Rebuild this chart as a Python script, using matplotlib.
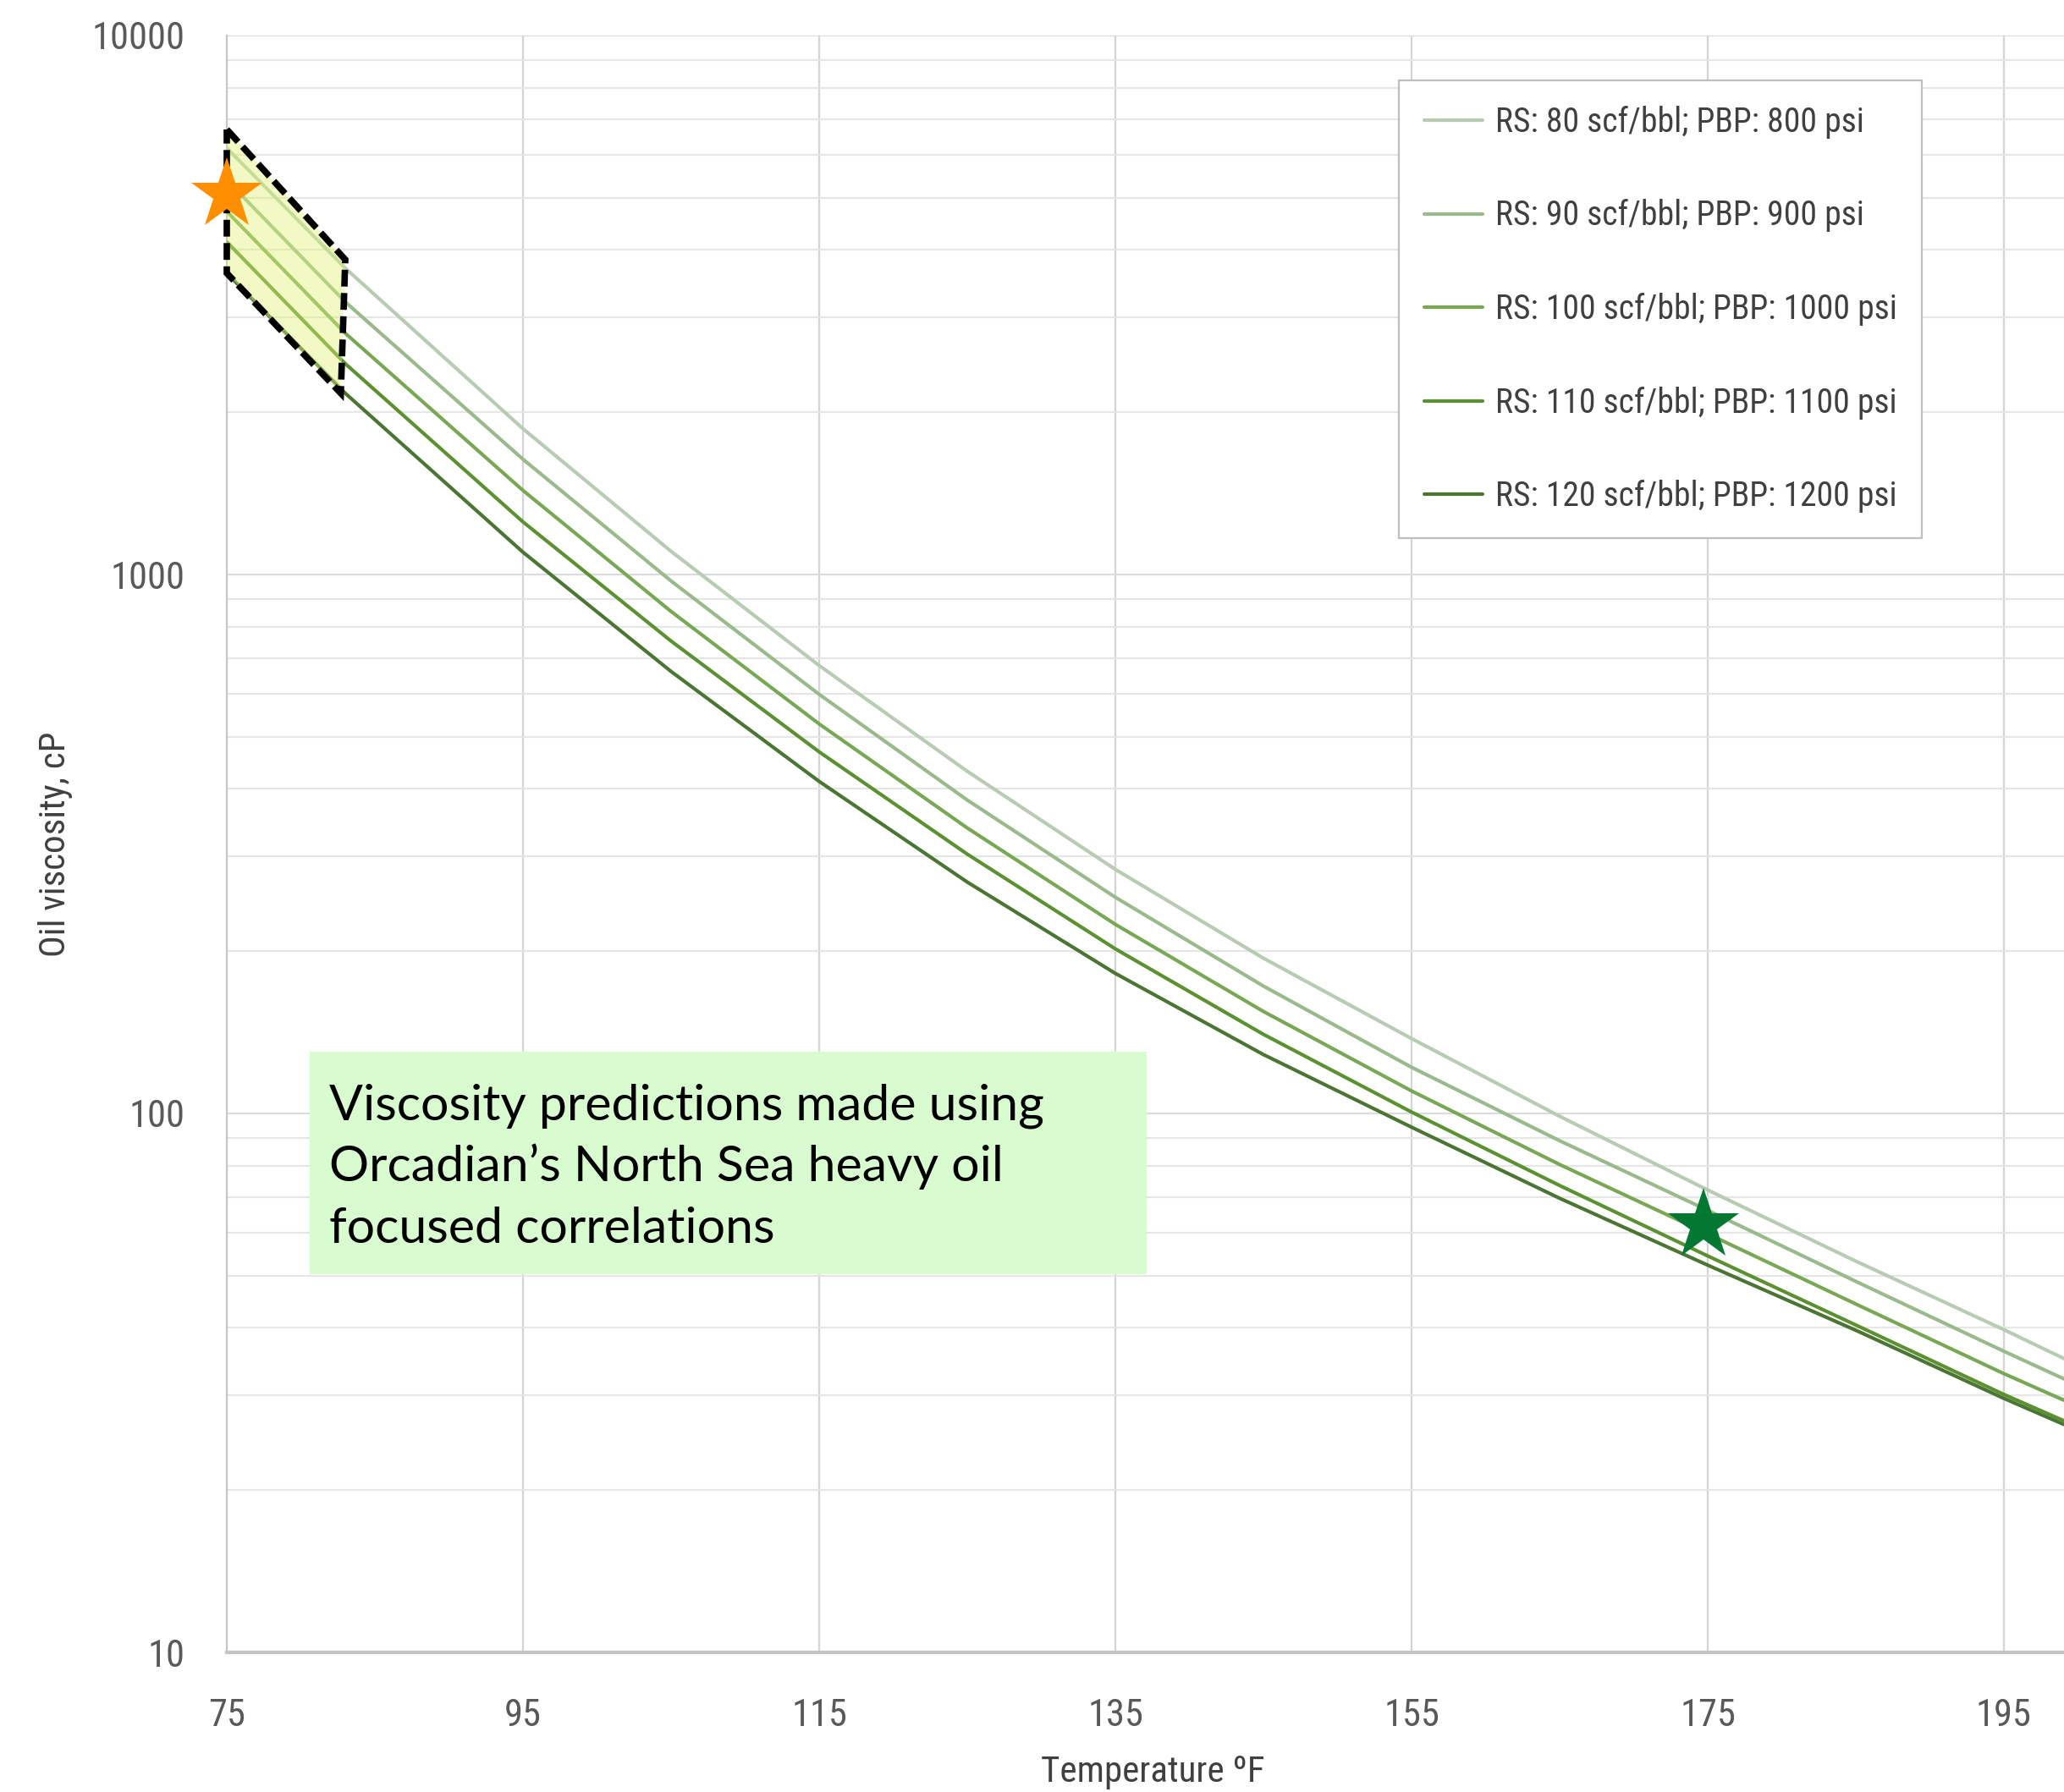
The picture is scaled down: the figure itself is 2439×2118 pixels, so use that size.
import matplotlib
matplotlib.use("Agg")
import matplotlib.pyplot as plt
import matplotlib.font_manager as fm
from matplotlib.patches import Polygon, Rectangle
from matplotlib.ticker import FixedLocator, NullFormatter, LogLocator

# ---------------- data ----------------
temperature_F = [75, 83, 95, 105, 115, 125, 135, 145, 155, 165, 175, 185, 195, 200]

visc_rs80 = [6184, 3702, 1864, 1104, 677.7, 431.4, 283.7, 194.1, 137.7, 98.8, 72.1, 53.2, 39.7, 34.1]
visc_rs90 = [5391, 3204, 1636, 972.6, 599.3, 381.5, 251.8, 172.3, 121.8, 89.0, 66.1, 48.8, 36.2, 31.3]
visc_rs100 = [4716, 2803, 1432, 853.9, 528.1, 338.6, 224.3, 154.6, 110.1, 80.4, 59.8, 44.3, 32.9, 28.6]
visc_rs110 = [4141, 2461, 1252, 752.5, 468.7, 302.8, 202.0, 140.2, 100.6, 73.5, 54.4, 40.5, 30.1, 26.2]
visc_rs120 = [3623, 2169, 1100, 660.8, 413.1, 268.7, 181.9, 128.6, 94.3, 69.6, 52.3, 39.6, 29.6, 25.8]

series_labels = [
    "RS: 80 scf/bbl; PBP: 800 psi",
    "RS: 90 scf/bbl; PBP: 900 psi",
    "RS: 100 scf/bbl; PBP: 1000 psi",
    "RS: 110 scf/bbl; PBP: 1100 psi",
    "RS: 120 scf/bbl; PBP: 1200 psi",
]

x_ticks = [75, 95, 115, 135, 155, 175, 195]
y_ticks = [10, 100, 1000, 10000]
y_tick_labels = ["10", "100", "1000", "10000"]

# highlighted region (parallelogram) in data coordinates
region_T = [75.0, 83.0, 82.7, 75.0]
region_visc = [6695, 3839, 2169, 3623]

# star markers
orange_star_T = [75.0]
orange_star_visc = [5070]
green_star_T = [174.7]
green_star_visc = [62.0]

note_lines = ["Viscosity predictions made using",
              "Orcadian\u2019s North Sea heavy oil",
              "focused correlations"]


# ---------------- narrow font lookup ----------------
def find_narrow_font():
    prefs = ["Liberation Sans Narrow", "Roboto Condensed", "Open Sans Condensed",
             "Noto Sans Condensed", "DejaVu Sans Condensed", "Arial Narrow"]
    entries = []
    for f in fm.fontManager.ttflist:
        low = (f.name + " " + f.fname).lower()
        is_narrow = ("narrow" in low or "condensed" in low or
                     str(f.stretch) in ("condensed", "semi-condensed", "extra-condensed"))
        if not is_narrow:
            continue
        if f.style != "normal":
            continue
        w = f.weight
        try:
            w = int(w)
        except Exception:
            w = 400 if str(w) in ("normal", "regular", "book") else 700
        if w != 400:
            continue
        if any(k in low for k in ("bold", "light", "medium", "thin", "black")):
            continue
        entries.append(f)

    def rank(f):
        low = (f.name + " " + f.fname).lower()
        for i, p in enumerate(prefs):
            key = p.lower().split()[0]
            if key in low and ("narrow" in low or "condensed" in low):
                if "semi" in low or "extra" in low:
                    return i + 0.5
                return i
        return 99
    entries.sort(key=rank)
    return entries[0].fname if entries else None


narrow_path = find_narrow_font()


def nfont(size):
    if narrow_path:
        return fm.FontProperties(fname=narrow_path, size=size)
    return fm.FontProperties(family="DejaVu Sans", size=size * 0.82)


# ---------------- figure ----------------
W, H = 2439, 2118
fig = plt.figure(figsize=(W / 100, H / 100), dpi=100)
fig.patch.set_facecolor("white")

ax_l, ax_r, ax_t, ax_b = 268, 2439, 42, 1953
ax = fig.add_axes([ax_l / W, 1 - ax_b / H, (ax_r - ax_l) / W, (ax_b - ax_t) / H])

colors = ["#B8CCB3", "#99BA8B", "#79A855", "#5B9131", "#4A7532"]
all_series = [visc_rs80, visc_rs90, visc_rs100, visc_rs110, visc_rs120]

ax.set_yscale("log")
ax.set_xlim(75, 75 + (ax_r - ax_l) / 17.5)
ax.set_ylim(10, 10000)

for vals, col, lab in zip(all_series, colors, series_labels):
    ax.plot(temperature_F, vals, color=col, lw=3.0, label=lab, zorder=3,
            solid_capstyle="round", solid_joinstyle="round")

# grid / ticks
ax.xaxis.set_major_locator(FixedLocator(x_ticks))
ax.yaxis.set_major_locator(FixedLocator(y_ticks))
ax.yaxis.set_minor_locator(LogLocator(base=10, subs=range(2, 10)))
ax.yaxis.set_minor_formatter(NullFormatter())
ax.set_yticklabels(y_tick_labels)
ax.grid(True, which="major", axis="x", color="#D4D4D4", lw=1.6)
ax.grid(True, which="major", axis="y", color="#DCDCDC", lw=1.6)
ax.grid(True, which="minor", axis="y", color="#E6E6E6", lw=1.6)
ax.set_axisbelow(True)
ax.tick_params(axis="both", which="both", length=0)
ax.tick_params(axis="y", pad=36, labelcolor="#595959")
ax.tick_params(axis="x", pad=39, labelcolor="#595959")
for lbl in ax.get_xticklabels() + ax.get_yticklabels():
    lbl.set_fontproperties(nfont(32))

for s in ["top", "right"]:
    ax.spines[s].set_visible(False)
ax.spines["left"].set_color("#C8C8C8")
ax.spines["left"].set_linewidth(1.6)
ax.spines["bottom"].set_color("#C4C4C4")
ax.spines["bottom"].set_linewidth(3)

ax.set_xlabel("Temperature \u00baF", fontproperties=nfont(31), color="#404040")
ax.set_ylabel("Oil viscosity, cP", fontproperties=nfont(31), color="#404040")
ax.xaxis.set_label_coords(0.504, -0.0635)
ax.yaxis.set_label_coords(-0.0838, 0.5)

# highlighted region
poly_fill = Polygon(list(zip(region_T, region_visc)), closed=True,
                    facecolor=(0.88, 0.95, 0.45, 0.42), edgecolor="none",
                    zorder=4, clip_on=False)
ax.add_patch(poly_fill)
poly_edge = Polygon(list(zip(region_T, region_visc)), closed=True, fill=False,
                    edgecolor="black", lw=5.5, linestyle=(0, (2.6, 1.0)),
                    zorder=5, clip_on=False, joinstyle="miter")
ax.add_patch(poly_edge)

# stars
ax.plot(orange_star_T, orange_star_visc, marker="*", markersize=64, color="#FF8F00",
        markeredgewidth=0, linestyle="none", zorder=6, clip_on=False)
ax.plot(green_star_T, green_star_visc, marker="*", markersize=64, color="#037832",
        markeredgewidth=0, linestyle="none", zorder=6, clip_on=False)

# legend
leg = ax.legend(loc="upper left", bbox_to_anchor=(1653 / W, 1 - 95 / H),
                bbox_transform=fig.transFigure, prop=nfont(28.5),
                frameon=True, fancybox=False, borderpad=0.75, labelspacing=1.81,
                handlelength=1.74, handletextpad=0.39, borderaxespad=0)
leg.get_frame().set_edgecolor("#BFBFBF")
leg.get_frame().set_linewidth(1.6)
leg.get_frame().set_facecolor("white")
leg.get_frame().set_alpha(1)
for t in leg.get_texts():
    t.set_color("#404040")
for h in leg.get_lines():
    h.set_linewidth(3)

# note box
box_l, box_t, box_r, box_b = 366, 1243, 1355, 1506
fig.patches.append(Rectangle((box_l / W, 1 - box_b / H), (box_r - box_l) / W,
                             (box_b - box_t) / H, transform=fig.transFigure,
                             facecolor="#D8FCD0", edgecolor="none", zorder=7))
baselines = [1323, 1396, 1469]
for line, by in zip(note_lines, baselines):
    fig.text(389 / W, 1 - by / H, line, family=["Lato", "DejaVu Sans"], fontsize=42.5,
             color="black", va="baseline", ha="left", zorder=8)

fig.savefig("out.png", dpi=100)
